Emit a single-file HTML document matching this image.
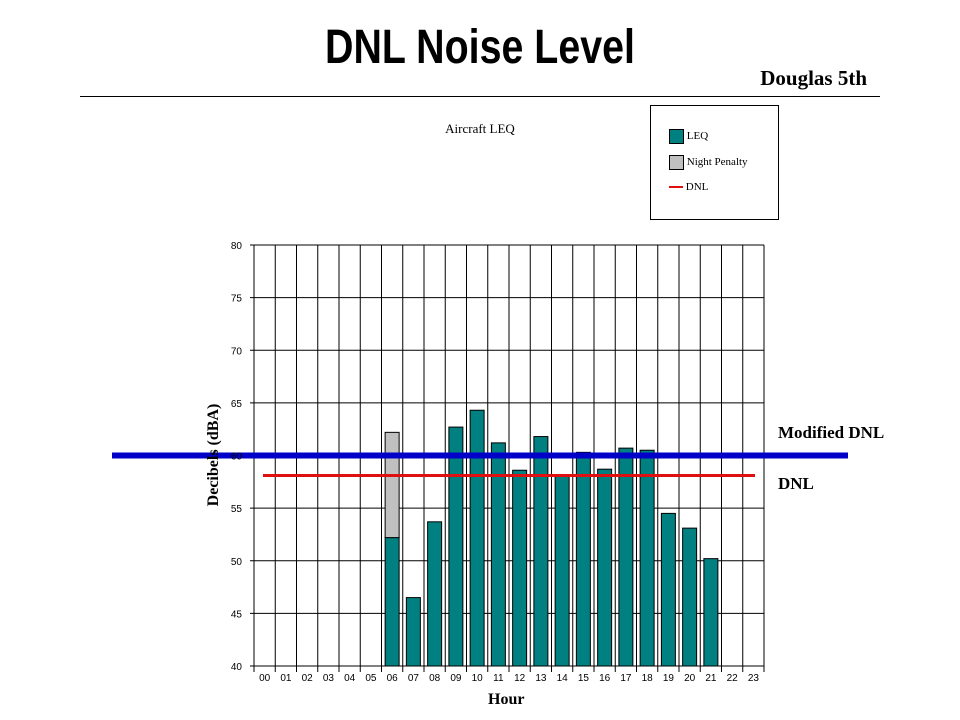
<!DOCTYPE html>
<html><head><meta charset="utf-8"><style>
body{margin:0;width:960px;height:720px;background:#fff;overflow:hidden;position:relative;font-family:"Liberation Serif",serif}
</style></head><body>
<div style="position:absolute;left:0;width:960px;top:18px;text-align:center;font-family:'Liberation Sans Narrow','Liberation Sans',sans-serif;font-weight:bold;font-size:48px;line-height:60px;transform:scaleX(0.82);">DNL Noise Level</div>
<div style="position:absolute;right:93px;top:66px;font-weight:bold;font-size:21px;">Douglas 5th</div>
<div style="position:absolute;left:80px;top:96px;width:800px;height:1px;background:#000"></div>
<svg width="960" height="720" style="position:absolute;left:0;top:0">
<g id="grid"></g><g id="bars"></g><g id="lines"></g><g id="labels"></g>
</svg>
<script>
const hours=["00","01","02","03","04","05","06","07","08","09","10","11","12","13","14","15","16","17","18","19","20","21","22","23"];
const leq=[null,null,null,null,null,null,52.2,46.5,53.7,62.7,64.3,61.2,58.6,61.8,58.1,60.3,58.7,60.7,60.5,54.5,53.1,50.2,null,null];
const penalty=[0,0,0,0,0,0,10,0,0,0,0,0,0,0,0,0,0,0,0,0,0,0,0,0];
const yTicks=[40,45,50,55,60,65,70,75,80];
const dnl=58.1;
const modifiedDnl=60;
const X0=254,X1=764,Y0=666,Y1=245;
const cw=(X1-X0)/hours.length;
const y=v=>Y0-(v-40)/(80-40)*(Y0-Y1);
const x=i=>X0+i*cw;
const NS="http://www.w3.org/2000/svg";
function mk(tag,attrs,parent){const e=document.createElementNS(NS,tag);for(const k in attrs)e.setAttribute(k,attrs[k]);document.getElementById(parent).appendChild(e);return e;}
yTicks.forEach(t=>{
 const l=mk('line',{x1:X0-4,x2:X1,y1:y(t),y2:y(t),stroke:'#000','stroke-width':1},'grid');
 
 
 const tx=mk('text',{x:X0-12,y:y(t)+4,'text-anchor':'end','font-size':10,'font-family':'Liberation Sans, sans-serif'},'labels');
 tx.textContent=t;
 
 
});
for(let i=0;i<=hours.length;i++){
 const l=mk('line',{x1:x(i),x2:x(i),y1:Y1,y2:Y0+6,stroke:'#000','stroke-width':1},'grid');
 
 
}
hours.forEach((h,i)=>{
 const tx=mk('text',{x:x(i)+cw/2,y:Y0+15,'text-anchor':'middle','font-size':10,'font-family':'Liberation Sans, sans-serif'},'labels');
 tx.textContent=h;
 
 
 if(leq[i]==null)return;
 const bw=14,bx=x(i)+(cw-bw)/2;
 const b=mk('rect',{x:bx,y:y(leq[i]),width:bw,height:Y0-y(leq[i]),fill:'#008080',stroke:'#000','stroke-width':1},'bars');
 
 
 if(penalty[i]>0){
  const p=mk('rect',{x:bx,y:y(leq[i]+penalty[i]),width:bw,height:y(leq[i])-y(leq[i]+penalty[i]),fill:'#c0c0c0',stroke:'#000','stroke-width':1},'bars');
  
  
 }
});
const r=mk('line',{x1:263,x2:755,y1:y(dnl),y2:y(dnl),stroke:'#e01010','stroke-width':3},'lines');


const bl=mk('line',{x1:112,x2:848,y1:y(modifiedDnl),y2:y(modifiedDnl),stroke:'#0000c8','stroke-width':6},'lines');


</script>
<div style="position:absolute;left:400px;width:160px;top:121px;text-align:center;font-size:13px;">Aircraft LEQ</div>
<div style="position:absolute;left:650px;top:105px;width:127px;height:113px;border:1px solid #000;font-size:11px;">
 <div style="position:absolute;left:18px;top:23px;"><span style="display:inline-block;width:13px;height:13px;background:#008080;border:1px solid #000;vertical-align:middle"></span> LEQ</div>
 <div style="position:absolute;left:18px;top:49px;"><span style="display:inline-block;width:13px;height:13px;background:#c0c0c0;border:1px solid #000;vertical-align:middle"></span> Night Penalty</div>
 <div style="position:absolute;left:18px;top:75px;"><span style="display:inline-block;width:14px;height:2px;background:#e01010;vertical-align:middle"></span> DNL</div>
</div>
<div style="position:absolute;left:214px;top:455px;transform:translate(-50%,-50%) rotate(-90deg);font-weight:bold;font-size:16px;white-space:nowrap;">Decibels (dBA)</div>
<div style="position:absolute;left:488px;top:691px;font-weight:bold;font-size:16px;">Hour</div>
<div style="position:absolute;left:778px;top:423px;font-weight:bold;font-size:17px;">Modified DNL</div>
<div style="position:absolute;left:778px;top:474px;font-weight:bold;font-size:17px;">DNL</div>
</body></html>
